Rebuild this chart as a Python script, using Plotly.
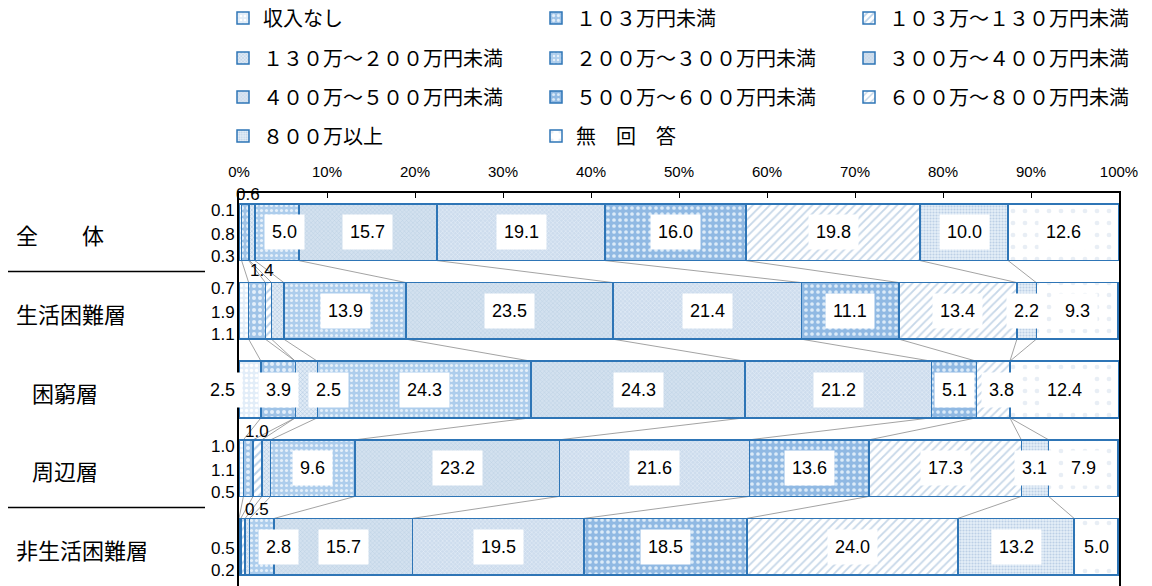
import plotly.graph_objects as go

# ---------------- data ----------------
groups = ["全　　体", "生活困難層", "困窮層", "周辺層", "非生活困難層"]
income_bands = ["収入なし", "１０３万円未満", "１０３万～１３０万円未満", "１３０万～２００万円未満",
                "２００万～３００万円未満", "３００万～４００万円未満", "４００万～５００万円未満",
                "５００万～６００万円未満", "６００万～８００万円未満", "８００万以上", "無　回　答"]

no_income = [0.3, 1.1, 2.5, 0.5, 0.0]
under_103 = [0.8, 1.9, 3.9, 1.1, 0.2]
r103_130 = [0.1, 0.7, 0.0, 1.0, 0.5]
r130_200 = [0.6, 1.4, 2.5, 1.0, 0.5]
r200_300 = [5.0, 13.9, 24.3, 9.6, 2.8]
r300_400 = [15.7, 23.5, 24.3, 23.2, 15.7]
r400_500 = [19.1, 21.4, 21.2, 21.6, 19.5]
r500_600 = [16.0, 11.1, 5.1, 13.6, 18.5]
r600_800 = [19.8, 13.4, 3.8, 17.3, 24.0]
over_800 = [10.0, 2.2, 0.0, 3.1, 13.2]
no_answer = [12.6, 9.3, 12.4, 7.9, 5.0]

series = [no_income, under_103, r103_130, r130_200, r200_300, r300_400,
          r400_500, r500_600, r600_800, over_800, no_answer]

tick_vals = [0, 10, 20, 30, 40, 50, 60, 70, 80, 90, 100]
tick_text = ["0%", "10%", "20%", "30%", "40%", "50%", "60%", "70%", "80%", "90%", "100%"]

# ---------------- styles ----------------
EDGE = "#2e75b6"
patterns = [
    dict(shape=".", bgcolor="#e2edf8", fgcolor="#ffffff", size=5, solidity=0.35),
    dict(shape=".", bgcolor="#9fc3e7", fgcolor="#e4effa", size=6, solidity=0.35),
    dict(shape="/", bgcolor="#ffffff", fgcolor="#bcd3ea", size=6, solidity=0.35),
    dict(shape="x", bgcolor="#e0ebf6", fgcolor="#a9c3dd", size=3, solidity=0.3),
    dict(shape=".", bgcolor="#adcdec", fgcolor="#e6f0fa", size=5, solidity=0.3),
    dict(shape="x", bgcolor="#d3e1ef", fgcolor="#b5cbe0", size=3, solidity=0.25),
    dict(shape="x", bgcolor="#cddced", fgcolor="#e9f1f9", size=3, solidity=0.3),
    dict(shape=".", bgcolor="#90b9e3", fgcolor="#dcebf8", size=6, solidity=0.3),
    dict(shape="/", bgcolor="#ffffff", fgcolor="#c6d7e8", size=6, solidity=0.3),
    dict(shape=".", bgcolor="#e6eff8", fgcolor="#bcd0e6", size=3, solidity=0.4),
    dict(shape=".", bgcolor="#ffffff", fgcolor="#e8eef5", size=12, solidity=0.12),
]

CJK = "Noto Sans CJK JP"
NUM = "Liberation Sans, Arial"

W, H = 1152, 586
PLOT_L, PLOT_R, PLOT_T, PLOT_B = 239, 1119, 193, 586   # pixels
PLOT_W = PLOT_R - PLOT_L
BAR_W = 0.72

legend_rows_y = [18, 58, 97, 136]       # pixel centres of legend rows
legend_cols_x = [223, 536, 849]         # pixel left of legend entries

rows = list(range(len(groups)))

fig = go.Figure()
legend_layouts = {}
for k, (name, vals) in enumerate(zip(income_bands, series)):
    key = "legend" if k == 0 else f"legend{k + 1}"
    fig.add_trace(go.Bar(
        name=name, x=vals, y=rows, orientation="h", width=BAR_W,
        marker=dict(color=patterns[k]["bgcolor"], line=dict(color=EDGE, width=1.5),
                    pattern=dict(fillmode="replace", **patterns[k])),
        legend=key, hoverinfo="skip",
    ))
    r, c = divmod(k, 3)
    legend_layouts[key] = dict(
        orientation="h", xref="container", yref="container",
        x=legend_cols_x[c] / W, y=1 - legend_rows_y[r] / H,
        xanchor="left", yanchor="middle", bgcolor="rgba(0,0,0,0)", borderwidth=0,
        font=dict(family=CJK, size=20, color="black"),
        itemclick=False, itemdoubleclick=False)

# cumulative positions
cums = []
for r in rows:
    c, acc = [], 0.0
    for s in series:
        c.append((acc, acc + s[r]))
        acc += s[r]
    cums.append(c)

# series lines between consecutive bars
shapes = []
for r in rows[:-1]:
    for k in range(len(series) - 1):
        shapes.append(dict(type="line", xref="x", yref="y",
                           x0=cums[r][k][1], y0=r + BAR_W / 2,
                           x1=cums[r + 1][k][1], y1=r + 1 - BAR_W / 2,
                           line=dict(color="#8c8c8c", width=0.8), layer="below"))

# separators on the left
for yy in (0.5, 3.5):
    shapes.append(dict(type="line", xref="paper", yref="y",
                       x0=(8 - PLOT_L) / PLOT_W, x1=(205 - PLOT_L) / PLOT_W, y0=yy, y1=yy,
                       line=dict(color="black", width=1.5)))

# ---------------- labels ----------------
LEFT_SLOT = {"top": -22, "middle": 2, "bottom": 24}
special = {
    (0, 0): ("left", "bottom"), (0, 1): ("left", "middle"), (0, 2): ("left", "top"),
    (0, 3): ("free", -4, -38),
    (1, 0): ("left", "bottom"), (1, 1): ("left", "middle"), (1, 2): ("left", "top"),
    (1, 3): ("free", -16, -40),
    (3, 0): ("left", "bottom"), (3, 1): ("left", "middle"), (3, 2): ("left", "top"),
    (3, 3): ("free", -9, -37),
    (4, 1): ("left", "bottom"), (4, 2): ("left", "middle"),
    (4, 3): ("free", 10, -37),
}
box_shift = {(0, 4): 8, (4, 4): 17, (2, 0): -28, (2, 3): 22, (2, 8): 8}

annotations = []
for r in rows:
    for k, s in enumerate(series):
        v = s[r]
        if v <= 0:
            continue
        txt = f"{v:.1f}"
        a, b = cums[r][k]
        centre = (a + b) / 2
        sp = special.get((r, k))
        if sp and sp[0] == "left":
            annotations.append(dict(x=0, y=r, xref="x", yref="y", text=txt, showarrow=False,
                                    xanchor="right", xshift=-2, yshift=-LEFT_SLOT[sp[1]],
                                    font=dict(family=NUM, size=17, color="black")))
        elif sp and sp[0] == "free":
            annotations.append(dict(x=centre, y=r, xref="x", yref="y", text=txt, showarrow=False,
                                    xshift=sp[1], yshift=-sp[2],
                                    font=dict(family=NUM, size=17, color="black")))
        else:
            annotations.append(dict(x=centre, y=r, xref="x", yref="y", text=txt, showarrow=False,
                                    xshift=box_shift.get((r, k), 0),
                                    bgcolor="white", borderpad=7,
                                    font=dict(family=NUM, size=18, color="black")))

indent_px = [14, 14, 30, 30, 14]
for r, g in enumerate(groups):
    annotations.append(dict(x=(indent_px[r] - PLOT_L) / PLOT_W, y=r, xref="paper", yref="y",
                            text=g, showarrow=False, xanchor="left", yshift=-2,
                            font=dict(family=CJK, size=22, color="black")))

fig.update_layout(
    width=W, height=H,
    margin=dict(l=PLOT_L, r=W - PLOT_R, t=PLOT_T, b=H - PLOT_B, autoexpand=False),
    barmode="stack",
    plot_bgcolor="white", paper_bgcolor="white",
    showlegend=True,
    shapes=shapes, annotations=annotations,
    xaxis=dict(side="top", range=[0, 100], tickmode="array", tickvals=tick_vals, ticktext=tick_text,
               ticks="inside", ticklen=5, tickcolor="black", tickwidth=1,
               showline=True, linecolor="black", linewidth=1.5,
               showgrid=False, zeroline=False, ticklabelstandoff=8,
               tickfont=dict(family=NUM, size=15, color="black")),
    yaxis=dict(range=[len(groups) - 0.5, -0.5], showticklabels=False, ticks="",
               showline=True, linecolor="black", linewidth=1.5, mirror=True,
               showgrid=False, zeroline=False),
    **legend_layouts,
)

# remove the browser's default 8px page margin so the figure sits at (0, 0)
fig.write_html("out.html", config={"displayModeBar": False},
               post_script="document.body.style.margin='0';")
